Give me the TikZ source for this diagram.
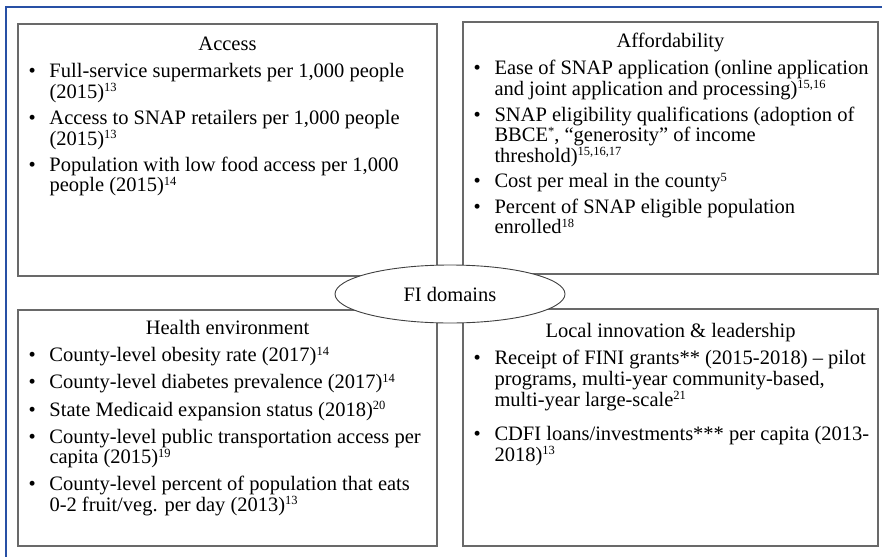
\documentclass[tikz,border=0pt]{standalone}
\usepackage{fontspec}
\usepackage{array}
\setmainfont{Liberation Serif}
\usetikzlibrary{positioning,shapes.geometric}
\definecolor{framebl}{RGB}{40,80,165}
\definecolor{boxgray}{RGB}{105,105,105}
\newcommand{\refnum}[1]{\smash{\raisebox{6.5pt}{\fontsize{12.5}{12.5}\selectfont #1}}}
\newcolumntype{B}{@{}>{\rule[-6.1pt]{0pt}{20.5pt}}p{21pt}@{}}
\begin{document}
\begin{tikzpicture}[x=1pt,y=-1pt,every node/.style={font=\fontsize{20.5}{20.5}\selectfont, text=black}]
  \tikzstyle{fibox}=[draw=boxgray, line width=1.4pt, fill=white, inner sep=0pt]
  \tikzstyle{fihead}=[inner sep=0pt, text height=14pt, text depth=4pt]
  \tikzstyle{filist}=[inner sep=0pt, anchor=north west, xshift=11pt, yshift=-8.6pt]

\useasboundingbox (0,0) rectangle (882,557);
\draw[framebl, line width=2pt] (882,7) -| (6,557);

% the four domain boxes
\node [fibox, minimum width=419pt, minimum height=252pt] (acc) at (227.5,150) {};
\node [fibox, minimum width=415pt, minimum height=252pt] (aff) at (670.5,148) {};
\node [fibox, minimum width=419pt, minimum height=236pt] (hlt) at (227.5,428) {};
\node [fibox, minimum width=415pt, minimum height=237pt] (loc) at (670.5,427.5) {};

\node [fihead, below=13pt of acc.north] (acc_t) {Access};
\node [fihead, below=12pt of aff.north] (aff_t) {Affordability};
\node [fihead, below=11pt of hlt.north] (hlt_t) {Health environment};
\node [fihead, below=15pt of loc.north] (loc_t) {Local innovation \& leadership};

\node [filist] (acc_i) at (acc.west |- acc_t.south) {\begin{tabular}{Bl@{}}
  \textbullet & Full-service supermarkets per 1,000 people\\
              & (2015)\refnum{13}\\[5.5pt]
  \textbullet & Access to SNAP retailers per 1,000 people\\
              & (2015)\refnum{13}\\[5.5pt]
  \textbullet & Population with low food access per 1,000\\
              & people (2015)\refnum{14}
\end{tabular}};

\node [filist] (aff_i) at (aff.west |- aff_t.south) {\begin{tabular}{Bl@{}}
  \textbullet & Ease of SNAP application (online application\\
              & and joint application and processing)\refnum{15,16}\\[5pt]
  \textbullet & SNAP eligibility qualifications (adoption of\\
              & BBCE\refnum{*}, ``generosity'' of income\\
              & threshold)\refnum{15,16,17}\\[5pt]
  \textbullet & Cost per meal in the county\refnum{5}\\[5pt]
  \textbullet & Percent of SNAP eligible population\\
              & enrolled\refnum{18}
\end{tabular}};

\node [filist] (hlt_i) at (hlt.west |- hlt_t.south) {\begin{tabular}{Bl@{}}
  \textbullet & County-level obesity rate (2017)\refnum{14}\\[6.5pt]
  \textbullet & County-level diabetes prevalence (2017)\refnum{14}\\[6.5pt]
  \textbullet & State Medicaid expansion status (2018)\refnum{20}\\[6.5pt]
  \textbullet & County-level public transportation access per\\
              & capita (2015)\refnum{19}\\[6.5pt]
  \textbullet & County-level percent of population that eats\\
              & 0-2 fruit/veg. per day (2013)\refnum{13}
\end{tabular}};

\node [filist] (loc_i) at (loc.west |- loc_t.south) {\begin{tabular}{Bl@{}}
  \textbullet & Receipt of FINI grants** (2015-2018) -- pilot\\
              & programs, multi-year community-based,\\
              & multi-year large-scale\refnum{21}\\[14pt]
  \textbullet & CDFI loans/investments*** per capita (2013-\\
              & 2018)\refnum{13}
\end{tabular}};

% centre ellipse over the boxes
\node [ellipse, draw=black!75, line width=0.9pt, fill=white, minimum width=230pt, minimum height=58pt] (fi) at (450,294) {FI domains};

\end{tikzpicture}
\end{document}
